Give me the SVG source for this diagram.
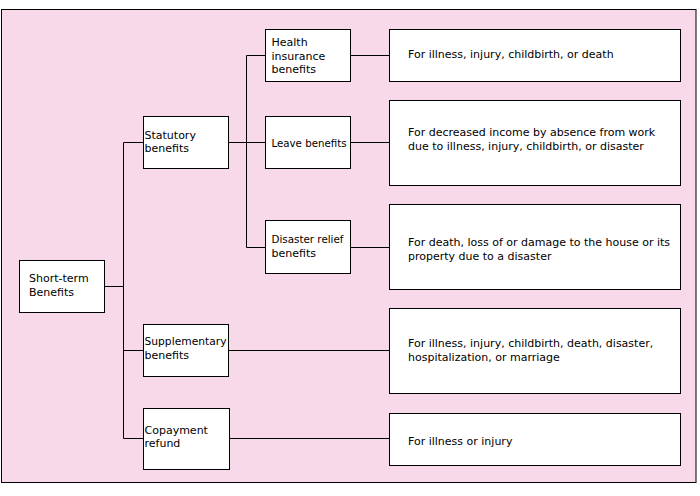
<svg xmlns="http://www.w3.org/2000/svg" width="700" height="496" viewBox="0 0 700 496">
<style>
.box{fill:#fff;stroke:#000;stroke-width:1}
.t{font-family:"DejaVu Sans",Verdana,sans-serif;font-size:11px;fill:#000}
.c{fill:none;stroke:#000;stroke-width:1}
</style>
<rect x="0" y="0" width="700" height="496" fill="#fff"/>
<rect id="frame" x="1.5" y="9.5" width="694.5" height="473" fill="#F8D9E9" stroke="#000" stroke-width="1"/>
<g id="connectors">
<path class="c" d="M104.5,286.5H123.5M123.5,142.5V438.5M123.5,142.5H143.5M123.5,350.5H143.5M123.5,438.5H143.5"/>
<path class="c" d="M228.5,142.5H265.5M246.5,55.5V247.5M246.5,55.5H265.5M246.5,247.5H265.5"/>
<path class="c" d="M350.5,55.5H389.5M350.5,142.5H389.5M350.5,247.5H389.5M228.5,350.5H389.5M229.5,438.5H389.5"/>
</g>
<g id="short-term"><rect class="box" x="19.5" y="260.5" width="85" height="52"/><text class="t" x="29" y="282">Short-term</text><text class="t" x="29" y="295.5">Benefits</text></g>
<g id="statutory"><rect class="box" x="143.5" y="116.5" width="85" height="52"/><text class="t" x="144.5" y="138.5">Statutory</text><text class="t" x="144.5" y="152">benefits</text></g>
<g id="supplementary"><rect class="box" x="143.5" y="324.5" width="85" height="52"/><text class="t" x="144.5" y="345" textLength="82" lengthAdjust="spacingAndGlyphs">Supplementary</text><text class="t" x="144.5" y="358.5">benefits</text></g>
<g id="copayment"><rect class="box" x="143.5" y="408.5" width="86" height="61"/><text class="t" x="144.5" y="433.5">Copayment</text><text class="t" x="144.5" y="447">refund</text></g>
<g id="health"><rect class="box" x="265.5" y="29.5" width="85" height="52"/><text class="t" x="271.5" y="46">Health</text><text class="t" x="271.5" y="59.5">insurance</text><text class="t" x="271.5" y="73">benefits</text></g>
<g id="leave"><rect class="box" x="265.5" y="116.5" width="85" height="52"/><text class="t" x="271.5" y="147" textLength="75" lengthAdjust="spacingAndGlyphs">Leave benefits</text></g>
<g id="disaster"><rect class="box" x="265.5" y="220.5" width="85" height="53"/><text class="t" x="271.5" y="243" textLength="72" lengthAdjust="spacingAndGlyphs">Disaster relief</text><text class="t" x="271.5" y="256.5">benefits</text></g>
<g id="desc-health"><rect class="box" x="389.5" y="29.5" width="291" height="52"/><text class="t" x="408" y="58">For illness, injury, childbirth, or death</text></g>
<g id="desc-leave"><rect class="box" x="389.5" y="100.5" width="291" height="85"/><text class="t" x="408" y="136">For decreased income by absence from work</text><text class="t" x="408" y="150">due to illness, injury, childbirth, or disaster</text></g>
<g id="desc-disaster"><rect class="box" x="389.5" y="204.5" width="291" height="85"/><text class="t" x="408" y="246">For death, loss of or damage to the house or its</text><text class="t" x="408" y="260">property due to a disaster</text></g>
<g id="desc-supplementary"><rect class="box" x="389.5" y="308.5" width="291" height="85"/><text class="t" x="408" y="347">For illness, injury, childbirth, death, disaster,</text><text class="t" x="408" y="361">hospitalization, or marriage</text></g>
<g id="desc-copayment"><rect class="box" x="389.5" y="413.5" width="291" height="52"/><text class="t" x="408" y="445">For illness or injury</text></g>
</svg>
